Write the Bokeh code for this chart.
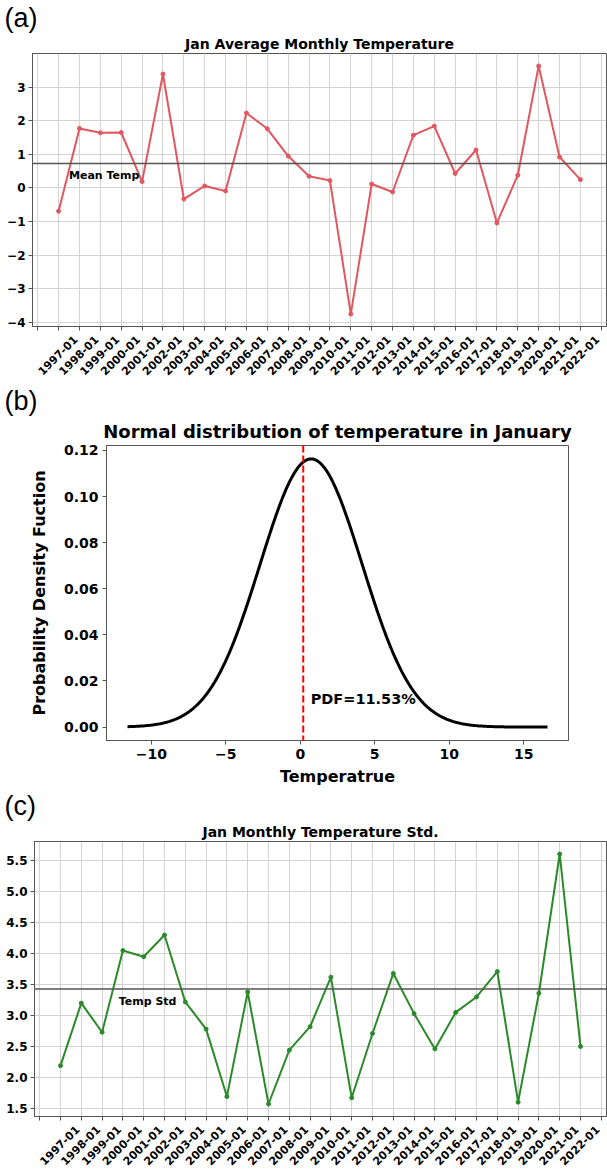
import math
import numpy as np
from bokeh.plotting import figure
from bokeh.models import FixedTicker, LinearAxis, Span, Label, Range1d, Title
from bokeh.layouts import column
from bokeh.embed import file_html
from bokeh.resources import INLINE

# ---------------- data ----------------
months = ["1997-01", "1998-01", "1999-01", "2000-01", "2001-01", "2002-01", "2003-01",
          "2004-01", "2005-01", "2006-01", "2007-01", "2008-01", "2009-01", "2010-01",
          "2011-01", "2012-01", "2013-01", "2014-01", "2015-01", "2016-01", "2017-01",
          "2018-01", "2019-01", "2020-01", "2021-01", "2022-01"]
jan_mean = [-0.69, 1.77, 1.64, 1.65, 0.19, 3.39, -0.33, 0.06, -0.09, 2.23, 1.76, 0.95, 0.35,
            0.22, -3.75, 0.12, -0.12, 1.57, 1.84, 0.43, 1.13, -1.04, 0.38, 3.63, 0.92, 0.25]
jan_std = [2.19, 3.20, 2.73, 4.05, 3.95, 4.30, 3.22, 2.78, 1.69, 3.38, 1.57, 2.44, 2.82,
           3.62, 1.67, 2.71, 3.68, 3.03, 2.46, 3.05, 3.30, 3.71, 1.60, 3.36, 5.61, 2.50]
mean_temp_level = 0.73
temp_std_level = 3.43

a_yticks = [-4, -3, -2, -1, 0, 1, 2, 3]
a_ylabels = ["\u22124", "\u22123", "\u22122", "\u22121", "0", "1", "2", "3"]
c_yticks = [1.5, 2.0, 2.5, 3.0, 3.5, 4.0, 4.5, 5.0, 5.5]
c_ylabels = ["1.5", "2.0", "2.5", "3.0", "3.5", "4.0", "4.5", "5.0", "5.5"]

# normal distribution (panel b)
pdf_mu = 0.73
pdf_sigma = 3.43
pdf_x_start, pdf_x_end = -11.6, 16.6
pdf_marker_x = 0.2
pdf_text = "PDF=11.53%"
b_xticks = [-10, -5, 0, 5, 10, 15]
b_xlabels = ["\u221210", "\u22125", "0", "5", "10", "15"]
b_yticks = [0.0, 0.02, 0.04, 0.06, 0.08, 0.10, 0.12]
b_ylabels = ["0.00", "0.02", "0.04", "0.06", "0.08", "0.10", "0.12"]

FONT = "DejaVu Sans"
TAG_FONT = "Liberation Sans"
AXIS_COLOR = "#555555"
GRID_COLOR = "#d3d3d3"
FIG_W = 607
LABEL_SHIFT_PX = 17.0


def set_titles(p, tag, text, size, standoff, b_left):
    # outer row: panel tag, inner row: chart title
    p.title.text = tag
    p.title.align = "left"
    p.title.offset = -b_left + 4
    p.title.text_font = TAG_FONT
    p.title.text_font_size = "27px"
    p.title.text_font_style = "normal"
    p.title.text_color = "black"
    p.title.standoff = 0
    p.add_layout(Title(text=text, align="center", text_font=FONT, text_font_size=size,
                       text_font_style="bold", text_color="black", standoff=standoff), "above")


def series_figure(values, color, title, tag, level, level_text, text_x, text_y,
                  yticks, ylabels, height, b_left, b_top, b_bottom):
    n = len(values)
    xs = list(range(1, n + 1))
    x0, x1 = 1 - 0.05 * (n - 1), n + 0.05 * (n - 1)
    lo, hi = min(values), max(values)
    pad = 0.05 * (hi - lo)
    p = figure(width=FIG_W, height=height, output_backend="svg", toolbar_location=None,
               x_range=Range1d(x0, x1), y_range=Range1d(lo - pad, hi + pad),
               min_border_left=b_left, min_border_right=1, min_border_top=b_top,
               min_border_bottom=b_bottom, frame_align=False)
    frame_w = FIG_W - b_left - 1
    shift = LABEL_SHIFT_PX * (x1 - x0) / frame_w
    p.extra_x_ranges = {"lab": Range1d(x0 - shift, x1 - shift)}

    set_titles(p, tag, title, "14px", 3, b_left)

    p.outline_line_color = AXIS_COLOR
    p.outline_line_width = 1

    # x axis: tick marks on every grid position, labels drawn by a second axis
    grid_ticks = list(range(0, n + 2))
    xa = p.xaxis[0]
    xa.ticker = FixedTicker(ticks=grid_ticks)
    xa.major_label_overrides = {t: "" for t in grid_ticks}
    xa.major_label_text_color = None
    xa.major_label_text_font_size = "1px"
    xa.major_label_standoff = 0
    xa.major_tick_out = 4
    xa.major_tick_in = 0
    xa.axis_line_color = AXIS_COLOR
    xa.major_tick_line_color = AXIS_COLOR
    p.xgrid.ticker = FixedTicker(ticks=grid_ticks)

    lab_axis = LinearAxis(x_range_name="lab", ticker=FixedTicker(ticks=xs),
                          major_label_overrides={x: m for x, m in zip(xs, months)},
                          major_label_orientation=math.pi / 4,
                          axis_line_color=None, major_tick_line_color=None,
                          minor_tick_line_color=None, major_label_standoff=1,
                          major_label_text_font=FONT, major_label_text_font_size="11px",
                          major_label_text_font_style="bold",
                          major_label_text_color="black")
    p.add_layout(lab_axis, "below")

    ya = p.yaxis[0]
    ya.ticker = FixedTicker(ticks=yticks)
    ya.major_label_overrides = {t: s for t, s in zip(yticks, ylabels)}
    ya.major_label_text_font = FONT
    ya.major_label_text_font_size = "12px"
    ya.major_label_text_font_style = "bold"
    ya.major_label_text_color = "black"
    ya.major_tick_out = 4
    ya.major_tick_in = 0
    ya.major_label_standoff = 3
    ya.axis_line_color = AXIS_COLOR
    ya.major_tick_line_color = AXIS_COLOR
    ya.minor_tick_line_color = None
    p.ygrid.ticker = FixedTicker(ticks=yticks)

    p.grid.grid_line_color = GRID_COLOR
    p.grid.grid_line_width = 1

    p.line(xs, values, line_color=color, line_width=2)
    p.scatter(xs, values, size=4, fill_color=color, line_color=color)

    p.add_layout(Span(location=level, dimension="width", line_color="#555555", line_width=1.5))
    p.add_layout(Label(x=text_x, y=text_y, text=level_text, text_font=FONT,
                       text_font_size="11px", text_font_style="bold", text_color="black",
                       text_baseline="bottom", text_align="left"))
    return p


pa = series_figure(jan_mean, "#e0575f", "Jan Average Monthly Temperature", "(a)",
                   mean_temp_level, "Mean Temp", 1.5, 0.18, a_yticks, a_ylabels,
                   height=381, b_left=32, b_top=53, b_bottom=47)

pc = series_figure(jan_std, "#2a8a2a", "Jan Monthly Temperature Std.", "(c)",
                   temp_std_level, "Temp Std", 3.8, 3.12, c_yticks, c_ylabels,
                   height=383, b_left=34, b_top=53, b_bottom=54)

# ---------------- panel b ----------------
pdf_x = np.linspace(pdf_x_start, pdf_x_end, 400)
pdf_y = np.exp(-0.5 * ((pdf_x - pdf_mu) / pdf_sigma) ** 2) / (pdf_sigma * math.sqrt(2 * math.pi))
bx_pad = 0.05 * (pdf_x_end - pdf_x_start)
by_pad = 0.05 * (pdf_y.max() - pdf_y.min())

pb = figure(width=FIG_W, height=407, output_backend="svg", toolbar_location=None,
            x_range=Range1d(pdf_x_start - bx_pad, pdf_x_end + bx_pad),
            y_range=Range1d(pdf_y.min() - by_pad, pdf_y.max() + by_pad),
            min_border_left=106, min_border_right=39, min_border_top=64, min_border_bottom=46,
            frame_align=False)
set_titles(pb, "(b)", "Normal distribution of temperature in January", "18px", 7, 106)
pb.grid.visible = False
pb.outline_line_color = AXIS_COLOR
pb.outline_line_width = 1

for ax, ticks, labels, name in ((pb.xaxis[0], b_xticks, b_xlabels, "Temperatrue"),
                                (pb.yaxis[0], b_yticks, b_ylabels, "Probability Density Fuction")):
    ax.ticker = FixedTicker(ticks=ticks)
    ax.major_label_overrides = {t: s for t, s in zip(ticks, labels)}
    ax.major_label_text_font = FONT
    ax.major_label_text_font_size = "14px"
    ax.major_label_text_font_style = "bold"
    ax.major_label_text_color = "black"
    ax.major_tick_out = 4
    ax.major_tick_in = 0
    ax.major_label_standoff = 4
    ax.axis_line_color = AXIS_COLOR
    ax.major_tick_line_color = AXIS_COLOR
    ax.minor_tick_line_color = None
    ax.axis_label = name
    ax.axis_label_text_font = FONT
    ax.axis_label_text_font_size = "16px"
    ax.axis_label_text_font_style = "bold"
    ax.axis_label_text_color = "black"
    ax.axis_label_standoff = 5
pb.yaxis[0].axis_label_standoff = 12

pb.line(pdf_x, pdf_y, line_color="black", line_width=3)
pb.add_layout(Span(location=pdf_marker_x, dimension="height", line_color="#ff0000",
                   line_width=2, line_dash="7 3"))
pb.add_layout(Label(x=pdf_marker_x + 0.5, y=0.0123, text=pdf_text, text_font=FONT,
                    text_font_size="14.5px", text_font_style="bold", text_color="black",
                    text_baseline="middle", text_align="left"))

layout = column(pa, pb, pc, spacing=0)
open("out.html", "w").write(file_html(layout, INLINE))
